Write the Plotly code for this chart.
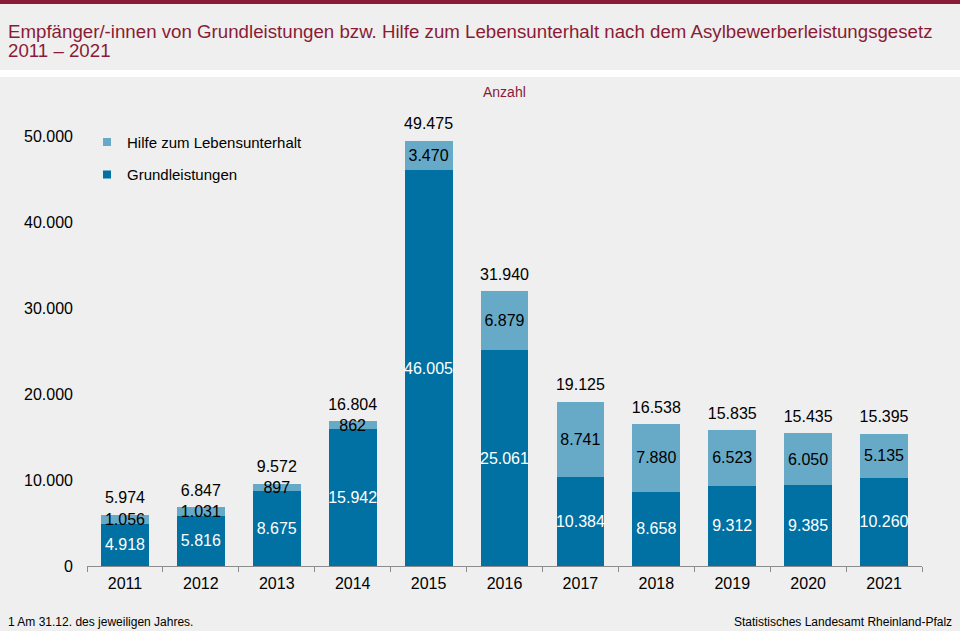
import plotly.graph_objects as go

years = ["2011", "2012", "2013", "2014", "2015", "2016", "2017", "2018", "2019", "2020", "2021"]
grundleistungen = [4918, 5816, 8675, 15942, 46005, 25061, 10384, 8658, 9312, 9385, 10260]
hilfe_lu = [1056, 1031, 897, 862, 3470, 6879, 8741, 7880, 6523, 6050, 5135]
totals = [5974, 6847, 9572, 16804, 49475, 31940, 19125, 16538, 15835, 15435, 15395]
y_ticks = [0, 10000, 20000, 30000, 40000, 50000]

DARK = "#0071A2"
LIGHT = "#66AAC8"
BG = "#EEEFEE"
RED = "#8A1B36"
FONT = "Liberation Sans, Arial, sans-serif"


def de(n):
    # German thousands separator
    return f"{n:,}".replace(",", ".")


fig = go.Figure()

fig.add_trace(go.Bar(
    x=years, y=grundleistungen, name="Grundleistungen",
    marker=dict(color=DARK, line=dict(width=0)),
    text=[de(v) for v in grundleistungen], textposition="inside", textangle=0,
    insidetextanchor="middle", constraintext="none",
    textfont=dict(color="white", size=16, family=FONT),
    showlegend=False, hoverinfo="skip",
))
fig.add_trace(go.Bar(
    x=years, y=hilfe_lu, name="Hilfe zum Lebensunterhalt",
    marker=dict(color=LIGHT, line=dict(width=0)),
    text=[de(v) for v in hilfe_lu], textposition="inside", textangle=0,
    insidetextanchor="middle", constraintext="none",
    textfont=dict(color="black", size=16, family=FONT),
    showlegend=False, hoverinfo="skip",
))

# totals above bars
fig.add_trace(go.Scatter(
    x=years, y=totals, mode="markers+text", text=[de(t) for t in totals],
    textposition="top center", marker=dict(size=10, opacity=0),
    textfont=dict(size=16, color="black", family=FONT),
    showlegend=False, hoverinfo="skip",
))

# legend entries with small square symbols
fig.add_trace(go.Scatter(x=[None], y=[None], mode="markers", name="Hilfe zum Lebensunterhalt",
                         marker=dict(symbol="square", size=8, color=LIGHT), legendgroup="a"))
fig.add_trace(go.Scatter(x=[None], y=[None], mode="markers", name="Grundleistungen",
                         marker=dict(symbol="square", size=8, color=DARK), legendgroup="b"))

# page decoration: red strip on top, white band under the title
fig.add_shape(type="rect", xref="paper", yref="paper", x0=-0.11, x1=1.05, y0=1.188, y1=1.21,
              fillcolor=RED, line=dict(width=0), layer="below")
fig.add_shape(type="rect", xref="paper", yref="paper", x0=-0.11, x1=1.05, y0=1.0338, y1=1.0486,
              fillcolor="white", line=dict(width=0), layer="below")

# title, unit, footer
fig.add_annotation(xref="paper", yref="paper", x=-0.097, y=1.131, xanchor="left", yanchor="middle",
                   text="Empfänger/-innen von Grundleistungen bzw. Hilfe zum Lebensunterhalt nach dem Asylbewerberleistungsgesetz",
                   showarrow=False, font=dict(size=18.7, color=RED, family=FONT))
fig.add_annotation(xref="paper", yref="paper", x=-0.097, y=1.089, xanchor="left", yanchor="middle",
                   text="2011 – 2021", showarrow=False, font=dict(size=18.7, color=RED, family=FONT))
fig.add_annotation(xref="paper", yref="paper", x=0.5, y=1.003, xanchor="center", yanchor="middle",
                   text="Anzahl", showarrow=False, font=dict(size=14, color=RED, family=FONT))
fig.add_annotation(xref="paper", yref="paper", x=-0.097, y=-0.118, xanchor="left", yanchor="middle",
                   text="1 Am 31.12. des jeweiligen Jahres.", showarrow=False,
                   font=dict(size=12, color="black", family=FONT))
fig.add_annotation(xref="paper", yref="paper", x=1.038, y=-0.118, xanchor="right", yanchor="middle",
                   text="Statistisches Landesamt Rheinland-Pfalz", showarrow=False,
                   font=dict(size=12, color="black", family=FONT))

fig.update_layout(
    width=960, height=631,
    margin=dict(l=87, r=38, t=93, b=65, autoexpand=False),
    barmode="stack", bargap=0.37,
    paper_bgcolor=BG, plot_bgcolor=BG,
    font=dict(family=FONT, size=16, color="black"),
    showlegend=True,
    legend=dict(x=0.0, y=0.931, xanchor="left", yanchor="top", bgcolor="rgba(0,0,0,0)",
                font=dict(size=15), traceorder="grouped", tracegroupgap=10),
    xaxis=dict(type="category", range=[-0.5, len(years) - 0.5], showline=True,
               linecolor="#8C8C8C", linewidth=1, ticks="outside",
               tickson="boundaries", ticklen=5, tickcolor="#8C8C8C", showgrid=False,
               ticklabelstandoff=3, tickfont=dict(size=16), automargin=False, fixedrange=True),
    yaxis=dict(range=[0, 55000], tickvals=y_ticks, ticktext=[de(v) for v in y_ticks],
               showgrid=False, zeroline=False, showline=False, ticks="",
               ticklabelstandoff=13, tickfont=dict(size=16), automargin=False, fixedrange=True),
)

fig.write_html("out.html", config={"displayModeBar": False},
               post_script="document.body.style.margin='0';")
